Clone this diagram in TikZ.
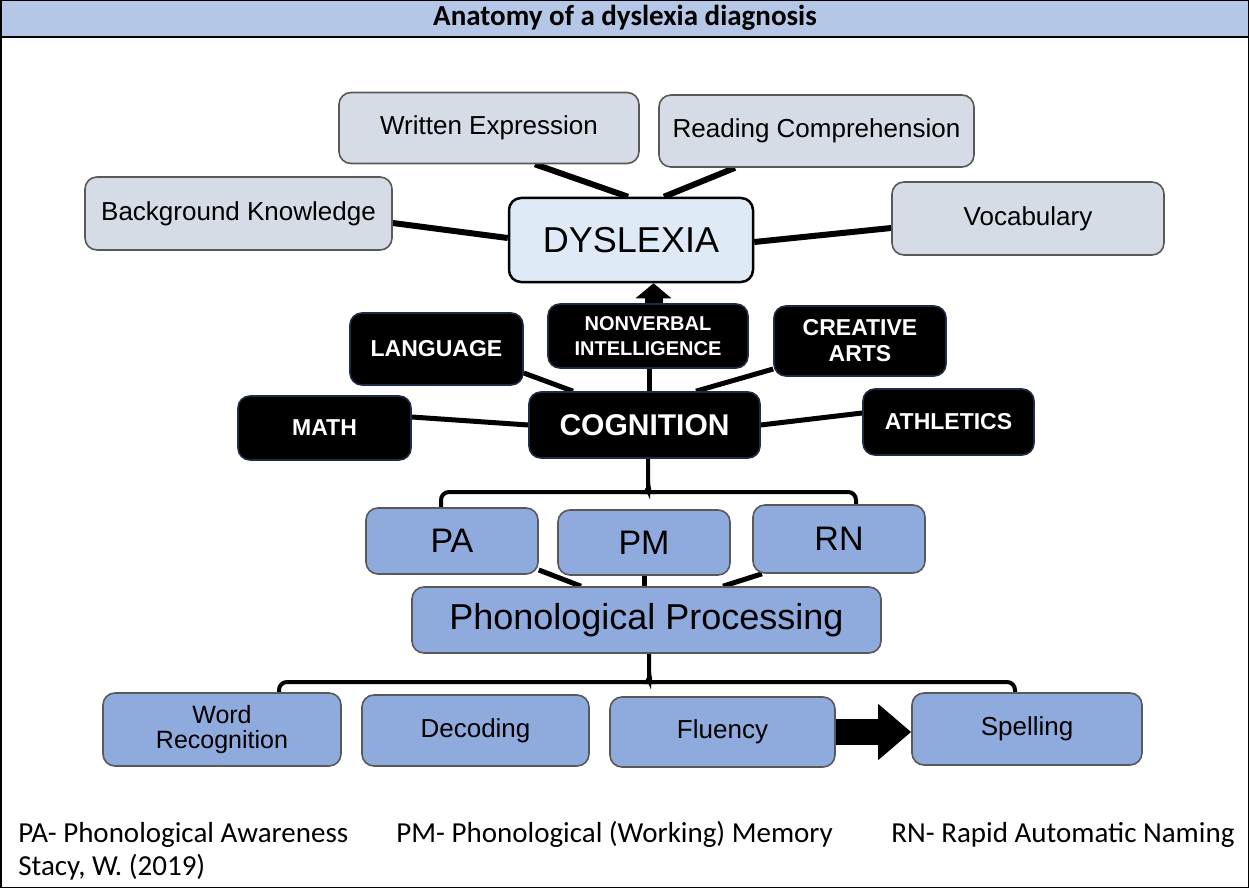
\documentclass[tikz,border=0pt]{standalone}
\usepackage{fontspec}
\setmainfont{Carlito}
\newfontfamily\arial{Liberation Sans}
\usetikzlibrary{arrows.meta,backgrounds}

\definecolor{titulo}{HTML}{B4C7E7}
\definecolor{gris}{HTML}{D6DCE5}
\definecolor{celeste}{HTML}{DEEBF7}
\definecolor{azul}{HTML}{8FAADC}
\definecolor{borde}{HTML}{595959}
\definecolor{marino}{HTML}{1F2A44}

\tikzset{
  caja/.style={rounded corners=6pt, align=center, inner sep=0pt},
  cajagris/.style={caja, draw=borde, fill=gris, line width=0.8pt, font=\arial\fontsize{13}{15}\selectfont},
  cajanegra/.style={caja, draw=marino, fill=black, text=white, line width=0.8pt, font=\arial\bfseries\fontsize{11.5}{13}\selectfont},
  cajaazul/.style={caja, draw=borde, fill=azul, line width=0.8pt, font=\arial\fontsize{13}{13}\selectfont},
  linea/.style={line width=3pt},
  linea2/.style={line width=2.5pt},
  llave/.style={line width=2pt, rounded corners=4pt}
}

\begin{document}
\begin{tikzpicture}[x=0.5pt, y=-0.5pt]
\useasboundingbox (0,0) rectangle (1249,888);

% Fondo, barra del titulo y marco
\begin{scope}[on background layer]
\fill[white] (0,0) rectangle (1249,888);
\fill[titulo] (0,0) rectangle (1249,37);
\end{scope}
\draw[line width=1pt] (0,37) -- (1249,37);
\draw[line width=1.5pt] (0,0) rectangle (1249,888);
\node[font=\bfseries\fontsize{14.5}{16}\selectfont] (titulo) at (625,18) {Anatomy of a dyslexia diagnosis};

% Nivel superior
\node[cajagris, minimum width=150pt, minimum height=35.5pt] (we) at (489,128) {Written Expression};
\node[cajagris, minimum width=157.5pt, minimum height=36pt] (rc) at (816.5,131) {Reading Comprehension};
\node[cajagris, minimum width=153.5pt, minimum height=36.5pt] (bk) at (238.5,213.5) {Background Knowledge};
\node[cajagris, minimum width=136pt, minimum height=36.5pt] (voc) at (1028,218.5) {Vocabulary};
\node[caja, draw=black, fill=celeste, line width=1.25pt, minimum width=122pt, minimum height=42pt,
  font=\arial\fontsize{18}{20}\selectfont] (dys) at (631,240) {DYSLEXIA};

% Cajas negras
\node[cajanegra, minimum width=86.5pt, minimum height=36pt] (lang) at (436.5,349) {LANGUAGE};
\node[cajanegra, minimum width=100pt, minimum height=32pt, font=\arial\bfseries\fontsize{10}{12.5}\selectfont] (nvi) at (648,336) {NONVERBAL\\INTELLIGENCE};
\node[cajanegra, minimum width=86pt, minimum height=35pt, font=\arial\bfseries\fontsize{11.5}{13}\selectfont] (art) at (860,341) {CREATIVE\\ARTS};
\node[cajanegra, minimum width=86.5pt, minimum height=32pt] (math) at (324.5,428) {MATH};
\node[cajanegra, minimum width=115.5pt, minimum height=33pt, font=\arial\bfseries\fontsize{15}{17}\selectfont] (cog) at (644.5,425) {COGNITION};
\node[cajanegra, minimum width=85.5pt, minimum height=33pt] (ath) at (948.5,422) {ATHLETICS};

% Procesamiento fonologico
\node[cajaazul, minimum width=86pt, minimum height=33pt, font=\arial\fontsize{17}{19}\selectfont] (pa) at (452,541) {PA};
\node[cajaazul, minimum width=86pt, minimum height=32.5pt, font=\arial\fontsize{17}{19}\selectfont] (pm) at (644,542.5) {PM};
\node[cajaazul, minimum width=86pt, minimum height=34pt, font=\arial\fontsize{17}{19}\selectfont] (rn) at (839,539) {RN};
\node[cajaazul, minimum width=234.5pt, minimum height=33pt, font=\arial\fontsize{18}{20}\selectfont] (pp) at (646.5,620) {Phonological Processing};

% Nivel inferior
\node[cajaazul, minimum width=119pt, minimum height=36.5pt, font=\arial\fontsize{12.5}{12.5}\selectfont] (wr) at (222,729.5) {Word\\Recognition};
\node[cajaazul, minimum width=113.5pt, minimum height=35.5pt] (dec) at (475.5,730.5) {Decoding};
\node[cajaazul, minimum width=112.5pt, minimum height=35pt] (flu) at (722.5,732) {Fluency};
\node[cajaazul, minimum width=115pt, minimum height=36pt] (spe) at (1027,729) {Spelling};

% Flechas gruesas
\draw[line width=13pt, -{Triangle[length=16.5pt,width=27pt]}] (flu.east) -- (flu.east -| spe.west);
\draw[line width=9pt, -{Triangle[length=7.5pt,width=17.5pt]}] ([xshift=2.75pt]nvi.north) -- ([xshift=2.75pt]nvi.north |- dys.south);

% Centros de las llaves
\coordinate (llave1) at (648,492);
\coordinate (llave2) at (649,682);

% Conectores detras de las cajas
\begin{scope}[on background layer]
\draw[linea] ([xshift=23pt]we.south) -- ([xshift=-1.5pt]dys.north);
\draw[linea] ([xshift=-40.75pt]rc.south) -- ([xshift=16.5pt]dys.north);
\draw[linea] ([yshift=-4.75pt]bk.east) -- ([yshift=1pt]dys.west);
\draw[linea] ([yshift=-4.75pt]voc.west) -- ([yshift=-1pt]dys.east);

\draw[linea2] ([yshift=-12pt]lang.east) -- ([xshift=-35.75pt]cog.north);
\draw[linea2] ([yshift=-14pt]art.west) -- ([xshift=25.75pt]cog.north);
\draw[linea2] ([yshift=5.5pt]math.east) -- (cog.west);
\draw[linea2] ([yshift=4.5pt]ath.west) -- (cog.east);
\draw[linea2] ([xshift=2.25pt]cog.north) -- ([xshift=2.25pt]cog.north |- nvi.south);

\draw[linea2] ([yshift=-14.5pt]pa.east) -- ([xshift=-32.75pt]pp.north);
\draw[linea2] (pm.south) -- (pm.south |- pp.north);
\draw[linea2] ([xshift=-38.5pt]rn.south) -- ([xshift=38.25pt]pp.north);

% Llaves
\draw[llave] ([xshift=-5.5pt]pa.north) |- ([xshift=-4pt]llave1) to[out=0,in=-90] ([yshift=5pt]llave1) -- (llave1 |- cog.south);
\draw[llave] ([xshift=8.5pt]rn.north) |- ([xshift=4pt]llave1) to[out=180,in=-90] ([yshift=5pt]llave1);
\draw[llave] ([xshift=28.5pt]wr.north) |- ([xshift=-4pt]llave2) to[out=0,in=-90] ([yshift=5pt]llave2) -- (llave2 |- pp.south);
\draw[llave] ([xshift=-6pt]spe.north) |- ([xshift=4pt]llave2) to[out=180,in=-90] ([yshift=5pt]llave2);
\end{scope}

% Pie
\node[anchor=base west, inner sep=0pt, font=\fontsize{14.5}{16}\selectfont] (nota1) at (18,842) {PA- Phonological Awareness};
\node[anchor=base west, inner sep=0pt, font=\fontsize{14.5}{16}\selectfont] (nota2) at (396,842) {PM- Phonological (Working) Memory};
\node[anchor=base west, inner sep=0pt, font=\fontsize{14.5}{16}\selectfont] (nota3) at (891,842) {RN- Rapid Automatic Naming};
\node[anchor=base west, inner sep=0pt, font=\fontsize{14.5}{16}\selectfont] (fuente) at (18,875) {Stacy, W. (2019)};
\end{tikzpicture}
\end{document}
